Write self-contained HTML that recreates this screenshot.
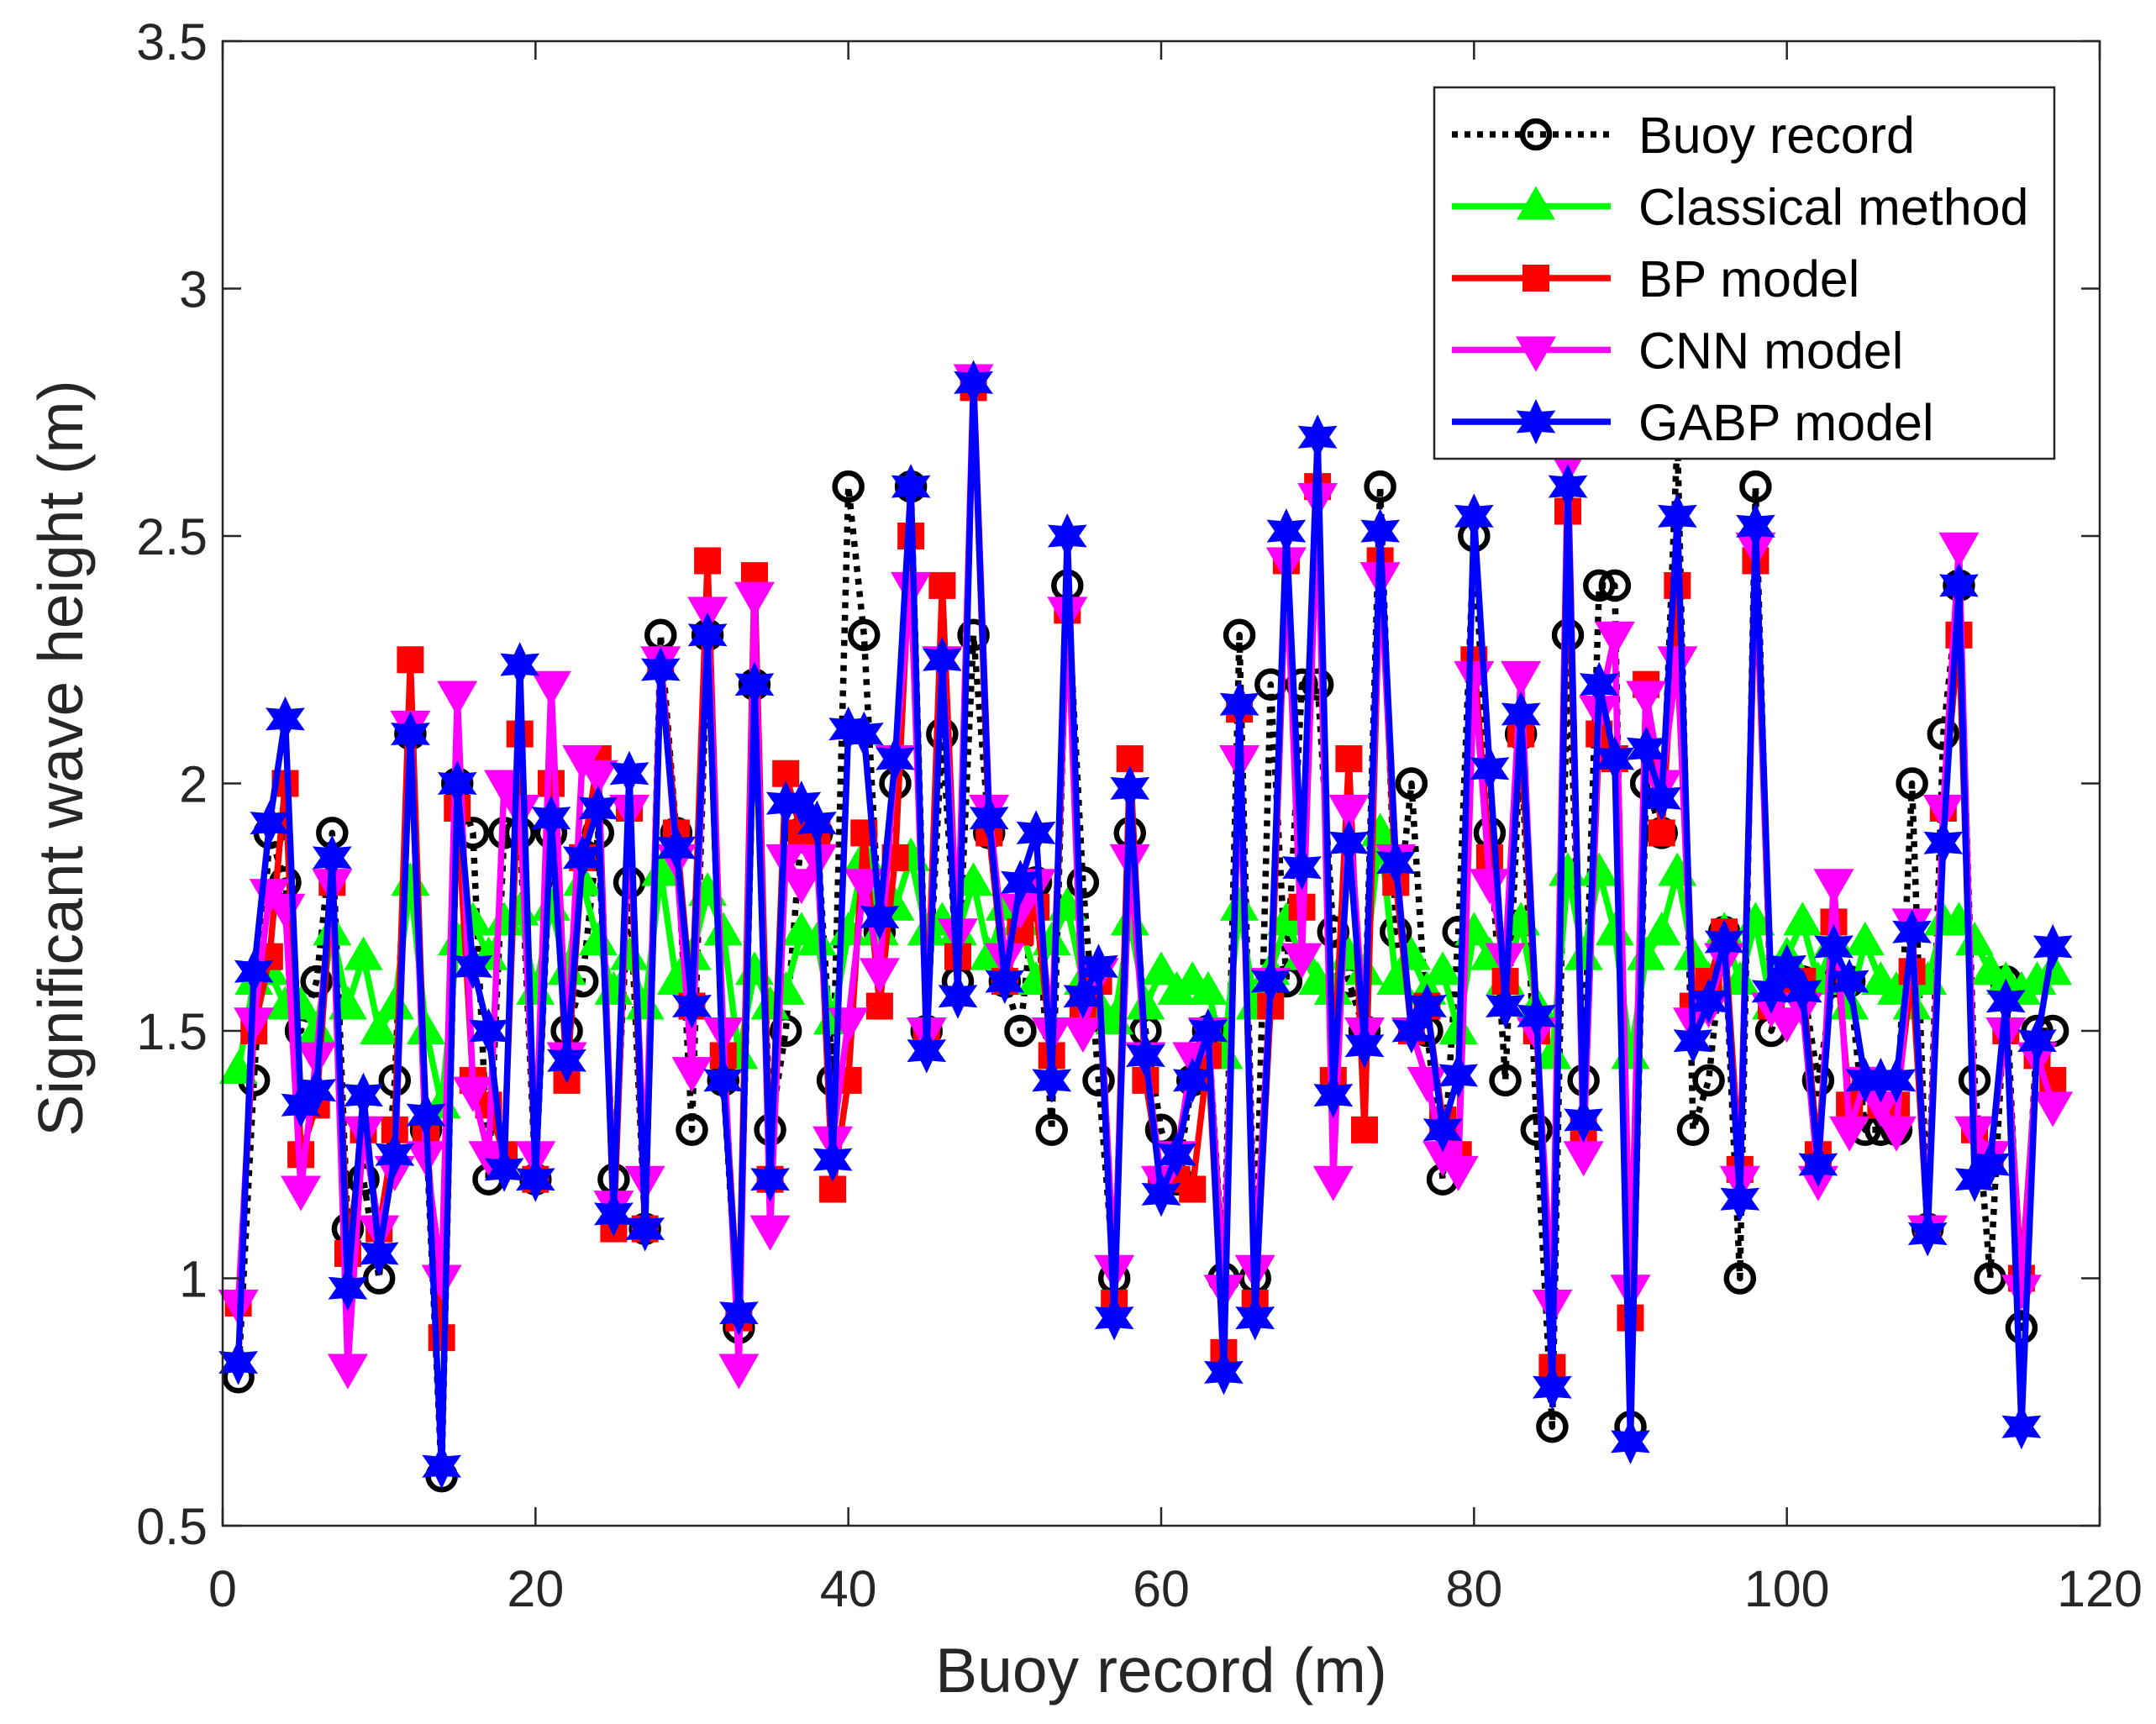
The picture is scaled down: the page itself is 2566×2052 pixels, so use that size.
<!DOCTYPE html>
<html><head><meta charset="utf-8"><style>
html,body{margin:0;padding:0;background:#fff;}
svg{display:block;font-family:"Liberation Sans",Arial,sans-serif;}
</style></head><body>
<svg id="chart" width="2566" height="2052" viewBox="0 0 2566 2052" xmlns="http://www.w3.org/2000/svg">
<rect x="0" y="0" width="2566" height="2052" fill="#fff"/>
<g id="plot"></g>
<g id="axes"></g>
</svg>
<script>
const buoy=[0.8,1.4,1.9,1.8,1.5,1.6,1.9,1.1,1.2,1.0,1.4,2.1,1.3,0.6,2.0,1.9,1.2,1.9,1.9,1.2,1.9,1.5,1.6,1.9,1.2,1.8,1.1,2.3,1.9,1.3,2.3,1.4,0.9,2.2,1.3,1.5,1.9,1.9,1.4,2.6,2.3,1.7,2.0,2.6,1.5,2.1,1.6,2.3,1.9,1.6,1.5,1.8,1.3,2.4,1.8,1.4,1.0,1.9,1.5,1.3,1.2,1.4,1.5,1.0,2.3,1.0,2.2,1.6,2.2,2.2,1.7,1.6,1.5,2.6,1.7,2.0,1.5,1.2,1.7,2.5,1.9,1.4,2.1,1.3,0.7,2.3,1.4,2.4,2.4,0.7,2.0,1.9,2.7,1.3,1.4,1.7,1.0,2.6,1.5,1.6,1.6,1.4,1.6,1.6,1.3,1.3,1.3,2.0,1.1,2.1,2.4,1.4,1.0,1.6,0.9,1.5,1.5];
const classical=[1.42,1.6,1.62,1.55,1.55,1.5,1.7,1.55,1.65,1.5,1.55,1.8,1.5,1.35,1.68,1.72,1.65,1.72,1.74,1.58,1.75,1.62,1.8,1.68,1.58,1.65,1.55,1.82,1.6,1.65,1.78,1.7,1.45,1.62,1.55,1.58,1.7,1.68,1.52,1.7,1.85,1.7,1.75,1.85,1.7,1.72,1.7,1.8,1.65,1.75,1.72,1.6,1.68,1.75,1.6,1.55,1.52,1.72,1.55,1.62,1.58,1.6,1.58,1.45,1.75,1.55,1.62,1.72,1.65,1.6,1.58,1.65,1.62,1.9,1.6,1.65,1.58,1.62,1.5,1.7,1.65,1.6,1.72,1.55,1.45,1.82,1.65,1.82,1.7,1.45,1.65,1.7,1.82,1.65,1.6,1.7,1.6,1.72,1.55,1.65,1.72,1.6,1.68,1.55,1.68,1.6,1.58,1.55,1.6,1.72,1.72,1.68,1.62,1.6,1.58,1.6,1.62];
const bp=[0.95,1.5,1.65,2.0,1.25,1.35,1.8,1.05,1.3,1.1,1.3,2.25,1.3,0.88,1.95,1.4,1.35,1.25,2.1,1.2,2.0,1.4,1.85,2.05,1.1,1.95,1.1,2.25,1.9,1.55,2.45,1.45,0.92,2.42,1.2,2.02,1.9,1.9,1.18,1.4,1.9,1.55,1.85,2.5,1.5,2.4,1.65,2.8,1.9,1.6,1.7,1.75,1.45,2.35,1.55,1.6,0.95,2.05,1.4,1.2,1.2,1.18,1.45,0.85,2.15,0.95,1.55,2.45,1.75,2.6,1.4,2.05,1.3,2.45,1.8,1.5,1.55,1.32,1.25,2.25,1.85,1.6,2.1,1.5,0.82,2.55,1.3,2.1,2.05,0.92,2.2,1.9,2.4,1.55,1.6,1.7,1.22,2.45,1.55,1.6,1.6,1.25,1.72,1.35,1.4,1.35,1.35,1.62,1.1,1.95,2.3,1.3,1.25,1.5,1.0,1.45,1.4];
const cnn=[0.95,1.52,1.78,1.75,1.18,1.45,1.8,0.82,1.3,1.1,1.22,2.12,1.25,1.0,2.18,1.38,1.25,2.0,1.95,1.25,2.2,1.45,2.05,2.02,1.15,1.95,1.2,2.25,1.85,1.42,2.35,1.5,0.82,2.38,1.1,1.85,1.8,1.85,1.28,1.52,1.8,1.62,2.05,2.4,1.5,2.25,1.7,2.82,1.95,1.65,1.75,1.8,1.5,2.35,1.5,1.62,1.02,1.85,1.45,1.2,1.25,1.45,1.5,0.98,2.05,1.02,1.6,2.45,1.65,2.58,1.2,1.95,1.5,2.42,1.85,1.5,1.4,1.25,1.22,2.22,1.8,1.65,2.22,1.5,0.95,2.65,1.25,2.15,2.3,0.98,2.18,2.0,2.25,1.52,1.55,1.65,1.2,2.48,1.55,1.52,1.55,1.2,1.8,1.3,1.4,1.35,1.3,1.72,1.1,1.95,2.48,1.3,1.25,1.5,0.98,1.45,1.35];
const gabp=[0.83,1.62,1.92,2.13,1.35,1.38,1.85,0.98,1.37,1.05,1.25,2.1,1.33,0.62,2.0,1.63,1.5,1.22,2.24,1.2,1.93,1.44,1.85,1.95,1.13,2.02,1.1,2.23,1.87,1.55,2.3,1.4,0.93,2.2,1.2,1.96,1.96,1.92,1.24,2.11,2.1,1.73,2.05,2.6,1.46,2.25,1.57,2.81,1.93,1.6,1.8,1.9,1.4,2.5,1.57,1.63,0.92,1.99,1.45,1.17,1.25,1.4,1.5,0.81,2.16,0.92,1.6,2.51,1.83,2.7,1.37,1.88,1.47,2.51,1.84,1.5,1.55,1.3,1.41,2.54,2.03,1.55,2.14,1.53,0.78,2.6,1.32,2.2,2.05,0.67,2.07,1.97,2.54,1.48,1.56,1.68,1.16,2.52,1.58,1.63,1.58,1.23,1.67,1.6,1.4,1.4,1.4,1.7,1.09,1.88,2.4,1.2,1.23,1.56,0.7,1.48,1.67];
const xTicks=[0,20,40,60,80,100,120];
const yTicks=[0.5,1,1.5,2,2.5,3,3.5];
const yTickLabels=["0.5","1","1.5","2","2.5","3","3.5"];
const legendLabels=["Buoy record","Classical method","BP model","CNN model","GABP model"];

const L=265,R=2499,T=49,B=1816;
const xS=v=>L+(v-0)/(120-0)*(R-L);
const yS=v=>B-(v-0.5)/(3.5-0.5)*(B-T);
const NS="http://www.w3.org/2000/svg";
const plot=document.getElementById('plot'), axes=document.getElementById('axes');
function mk(tag,attrs,parent){const e=document.createElementNS(NS,tag);for(const k in attrs)e.setAttribute(k,attrs[k]);parent.appendChild(e);return e;}

function marker(kind,cx,cy,g,color){
  let e;
  if(kind==='circle'){e=mk('circle',{cx:cx,cy:cy,r:16,fill:'none',stroke:'#000','stroke-width':6.5},g);}
  else if(kind==='tri'){e=mk('polygon',{points:`${cx},${cy-24} ${cx-23},${cy+16} ${cx+23},${cy+16}`,fill:color},g);}
  else if(kind==='square'){e=mk('rect',{x:cx-16,y:cy-16,width:32,height:32,fill:color},g);}
  else if(kind==='dtri'){e=mk('polygon',{points:`${cx},${cy+26} ${cx-24},${cy-16} ${cx+24},${cy-16}`,fill:color},g);}
  else if(kind==='star'){let p=[];for(let i=0;i<12;i++){const a=-Math.PI/2+i*Math.PI/6;const r=i%2===0?27:14;p.push((cx+r*Math.cos(a)).toFixed(1)+','+(cy+r*Math.sin(a)).toFixed(1));}e=mk('polygon',{points:p.join(' '),fill:color},g);}
  return e;
}
const series=[
 {name:'buoy-record',data:buoy,color:'#000',kind:'circle',dash:'7 8'},
 {name:'classical-method',data:classical,color:'#00ff00',kind:'tri',dash:null},
 {name:'bp-model',data:bp,color:'#ff0000',kind:'square',dash:null},
 {name:'cnn-model',data:cnn,color:'#ff00ff',kind:'dtri',dash:null},
 {name:'gabp-model',data:gabp,color:'#0000ff',kind:'star',dash:null}
];
series.forEach(s=>{
  const g=mk('g',{},plot);
  
  
  const pts=s.data.map((v,i)=>xS(i+1).toFixed(1)+','+yS(v).toFixed(1)).join(' ');
  const line=mk('polyline',{points:pts,fill:'none',stroke:s.color,'stroke-width':7.5,'stroke-linejoin':'round'},g);
  if(s.dash)line.setAttribute('stroke-dasharray',s.dash);
  
  
  s.data.forEach((v,i)=>{
    const m=marker(s.kind,xS(i+1),yS(v),g,s.color);
    
    
  });
});
const box=mk('rect',{x:L,y:T,width:R-L,height:B-T,fill:'none',stroke:'#262626','stroke-width':2.5},axes);


xTicks.forEach(v=>{
  const x=xS(v);
  mk('line',{x1:x,y1:B,x2:x,y2:B-22,stroke:'#262626','stroke-width':2.5},axes);
  mk('line',{x1:x,y1:T,x2:x,y2:T+22,stroke:'#262626','stroke-width':2.5},axes);
  const t=mk('text',{x:x,y:B+96,'text-anchor':'middle','font-size':61,fill:'#262626'},axes);
  t.textContent=String(v);
  
  
});
yTicks.forEach((v,i)=>{
  const y=yS(v);
  mk('line',{x1:L,y1:y,x2:L+22,y2:y,stroke:'#262626','stroke-width':2.5},axes);
  mk('line',{x1:R,y1:y,x2:R-22,y2:y,stroke:'#262626','stroke-width':2.5},axes);
  const t=mk('text',{x:L-18,y:y+22,'text-anchor':'end','font-size':61,fill:'#262626'},axes);
  t.textContent=yTickLabels[i];
  
  
});
const xt=mk('text',{x:(L+R)/2,y:2014,'text-anchor':'middle','font-size':75,fill:'#262626'},axes);
xt.textContent='Buoy record (m)';


const yt=mk('text',{x:0,y:0,'text-anchor':'middle','font-size':75,fill:'#262626',transform:`translate(98,${(T+B)/2-30}) rotate(-90)`},axes);
yt.textContent='Significant wave height (m)';


const lg=mk('g',{},axes);


mk('rect',{x:1707,y:104,width:738,height:442,fill:'#fff',stroke:'#262626','stroke-width':2.5},lg);
legendLabels.forEach((lab,i)=>{
  const s=series[i];const y=160+i*85.5;
  const e=mk('g',{},lg);
  
  
  const ln=mk('line',{x1:1728,y1:y,x2:1917,y2:y,stroke:s.color,'stroke-width':7.5},e);
  if(s.dash)ln.setAttribute('stroke-dasharray',s.dash);
  marker(s.kind,1828,y,e,s.color);
  const t=mk('text',{x:1950,y:y+22,'font-size':61,fill:'#000'},e);
  t.textContent=lab;
});
</script>
</body></html>
